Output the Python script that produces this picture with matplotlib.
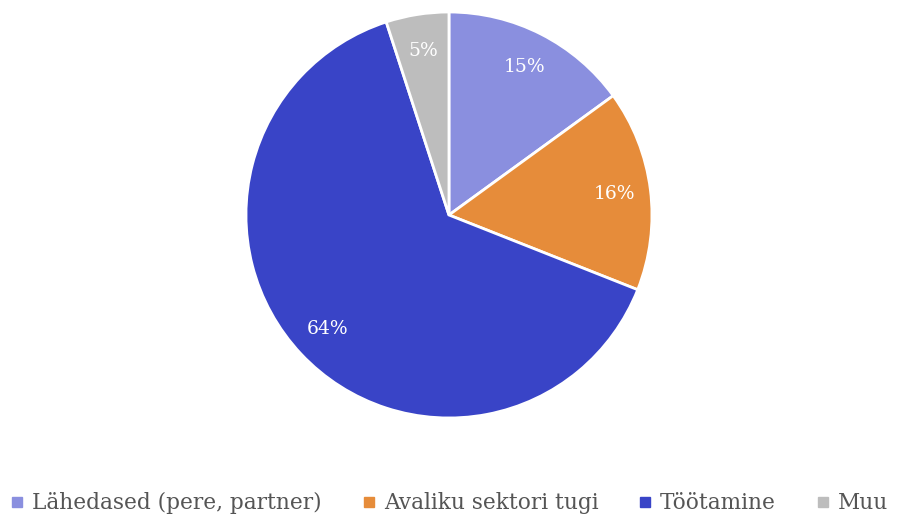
import matplotlib.pyplot as plt
from matplotlib.lines import Line2D

# Data
labels = ['Lähedased (pere, partner)', 'Avaliku sektori tugi', 'Töötamine', 'Muu']
values = [15, 16, 64, 5]
colors = ['#8a8fdf', '#e68c3a', '#3944c7', '#bdbdbd']

fig = plt.figure(figsize=(9, 5.17), dpi=100)
ax = fig.add_axes([0.2733, 0.1915, 0.4511, 0.7853])

wedges, texts, autotexts = ax.pie(
    values, colors=colors, startangle=90, counterclock=False,
    autopct='%1.0f%%', pctdistance=0.82,
    wedgeprops=dict(edgecolor='white', linewidth=2),
    textprops=dict(color='white', fontsize=13.5, family='DejaVu Serif'))
ax.set_xlim(-1, 1)
ax.set_ylim(-1, 1)
ax.set_aspect('equal')

# Legend along the bottom
handles = [Line2D([0], [0], marker='s', linestyle='', markersize=7,
                  markerfacecolor=c, markeredgecolor=c) for c in colors]
leg = fig.legend(handles, labels, loc='center', bbox_to_anchor=(0.5, 0.027),
                 ncol=4, frameon=False, handlelength=0.5, handletextpad=0.45,
                 columnspacing=1.9, prop=dict(family='DejaVu Serif', size=15.6))
for t in leg.get_texts():
    t.set_color('#555555')

fig.savefig('out.png', dpi=100)
